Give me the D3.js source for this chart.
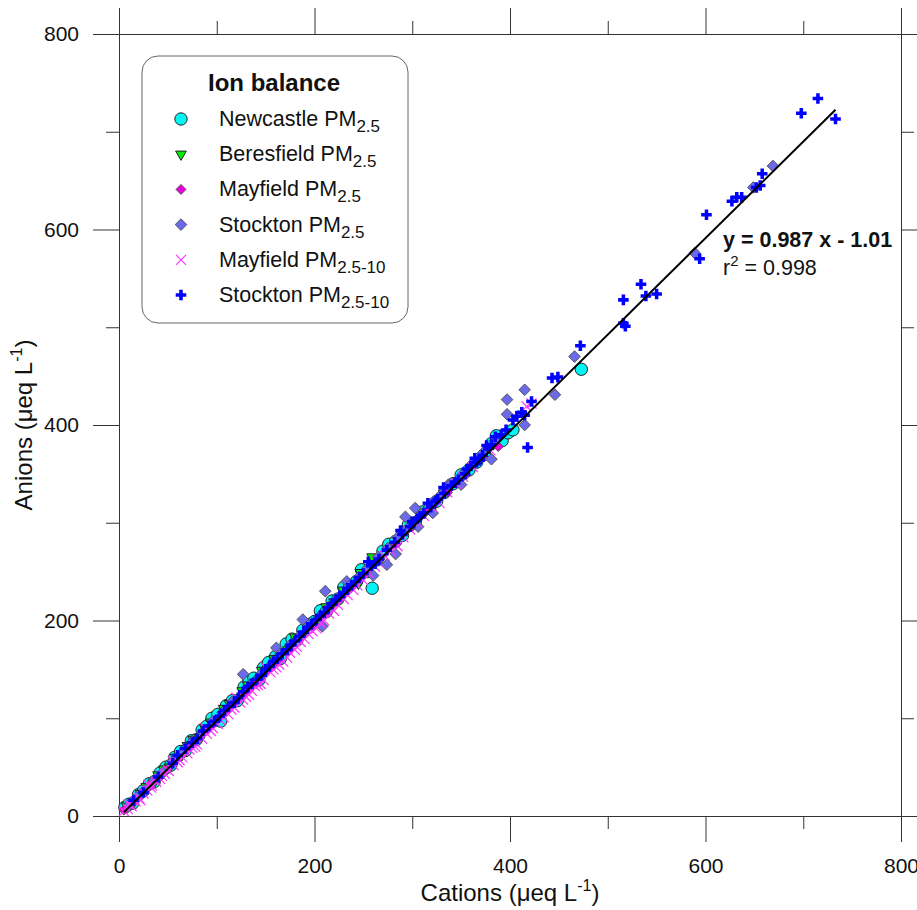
<!DOCTYPE html>
<html>
<head>
<meta charset="utf-8">
<script src="https://cdn.jsdelivr.net/npm/d3@7"></script>
<style>
  body { margin: 0; background: #fff; }
  text { font-family: Arial, "Liberation Sans", sans-serif; fill: #111; }
</style>
</head>
<body>
<svg id="chart"></svg>
<script>
// [cations, anions] in ueq/L
const newcastle = [[6,9],[10,12],[14,13],[20,22],[25,26],[31,33],[36,35],[42,44],[48,50],[53,52],[57,60],[63,66],[68,67],
  [74,77],[79,78],[85,88],[90,92],[95,100],[101,104],[104,97],[110,113],[116,118],[121,118],[128,132],[133,137],[138,141],
  [143,139],[148,152],[153,157],[160,163],[165,161],[171,176],[177,181],[182,180],[188,190],[194,196],[200,199],[206,210],
  [212,209],[218,220],[224,222],[230,234],[236,236],[243,240],[248,252],[254,250],[259,233],[264,262],[270,271],[276,278],
  [283,281],[290,287],[296,298],[303,300],[310,311],[318,315],[325,322],[333,331],[342,340],[350,349],[358,354],[366,362],
  [374,370],[381,381],[386,389],[392,384],[398,392],[403,395],[473,457]];
const beresfield = [[8,10],[15,14],[22,23],[28,30],[35,33],[40,42],[46,48],[52,50],[58,60],[64,62],[70,72],[76,78],[82,80],
  [88,90],[94,96],[100,98],[107,110],[113,115],[119,117],[126,128],[132,134],[139,137],[146,149],[152,150],[159,161],
  [166,168],[173,170],[180,183],[188,186],[196,198],[204,202],[212,214],[220,219],[229,231],[238,236],[245,238],[247,249],[259,265]];
const mayfield = [[5,6],[12,11],[18,17],[26,25],[33,32],[41,39],[49,47],[57,56],[66,64],[74,72],[83,80],[92,90],[101,99],
  [110,107],[120,118],[130,127],[140,137],[151,148],[162,158],[174,170],[186,183],[198,195],[211,207],[224,220],[238,234],
  [252,248],[267,263],[283,278],[300,296],[318,313],[336,331],[355,349],[372,367],[388,378]];
const stockton = [[10,11],[18,19],[27,27],[36,37],[45,45],[55,56],[65,65],[75,76],[86,86],[96,97],[106,106],[116,117],
  [127,145],[135,134],[145,145],[155,154],[161,172],[165,166],[175,175],[188,201],[185,184],[195,196],[208,194],[205,204],
  [211,230],[215,214],[225,224],[233,240],[235,235],[245,244],[255,254],[260,246],[265,265],[274,257],[275,274],[283,268],
  [285,285],[293,306],[295,294],[303,315],[306,296],[310,309],[321,310],[320,320],[330,329],[337,339],[340,340],[350,339],
  [352,350],[362,361],[372,371],[381,365],[385,384],[397,426],[397,411],[415,436],[415,400],[446,431],[466,470],[589,576],
  [649,643],[669,665]];
const mayfield10 = [[5,5],[9,7],[10,12],[13,10],[17,15],[21,18],[22,16],[25,23],[29,26],[30,32],[33,29],[34,31],[38,35],
  [42,38],[44,41],[47,43],[51,46],[55,56],[56,52],[60,55],[62,57],[65,60],[70,64],[72,68],[75,70],[78,71],[80,73],[85,79],
  [88,90],[90,84],[94,87],[96,90],[101,94],[104,98],[107,101],[112,104],[115,109],[118,111],[120,121],[124,116],[127,119],
  [130,122],[133,124],[136,128],[139,133],[142,134],[145,135],[148,139],[150,152],[155,147],[158,150],[161,152],[164,155],
  [168,158],[172,162],[175,167],[180,170],[182,173],[186,178],[190,181],[194,186],[198,189],[202,192],[206,198],[210,200],
  [215,207],[220,210],[224,216],[230,222],[234,226],[240,231],[244,236],[250,241],[255,249],[262,255],[266,259],[272,266],
  [278,271],[285,276],[291,285],[298,293],[305,300],[312,307],[320,316],[328,320],[336,331],[345,340],[352,347],[362,357],
  [380,374],[417,419],[422,422]];
const stockton10 = [[15,16],[25,24],[40,40],[55,54],[60,62],[68,69],[75,75],[80,79],[86,87],[92,92],[98,97],[103,102],
  [108,108],[112,112],[118,116],[122,121],[127,127],[132,132],[136,135],[141,140],[146,144],[150,150],[154,153],[158,158],
  [162,161],[167,166],[172,170],[176,175],[180,179],[185,184],[189,188],[193,193],[197,196],[202,201],[206,205],[210,208],
  [214,213],[218,217],[222,221],[226,225],[230,228],[234,233],[238,236],[242,240],[246,244],[250,248],[255,260],[258,256],
  [262,258],[266,263],[274,272],[282,280],[288,292],[290,288],[298,296],[300,301],[305,304],[308,306],[312,310],[316,320],
  [319,316],[324,322],[326,324],[332,336],[333,330],[340,338],[344,341],[347,344],[354,350],[356,355],[360,358],[364,366],
  [366,362],[369,364],[372,369],[376,379],[378,376],[381,380],[385,388],[391,390],[396,395],[403,405],[407,409],[412,413],
  [415,410],[418,377],[422,424],[443,448],[449,449],[472,481],[516,528],[516,504],[518,501],[534,544],[539,532],[550,534],
  [594,570],[601,615],[627,629],[632,633],[637,633],[652,643],[656,645],[658,657],[698,719],[715,734],[733,713]];

const fitSlope = 0.987, fitIntercept = -1.01;
const fitRange = [5, 733];
const xTicks = [0, 200, 400, 600, 800];
const minorTicks = [100, 300, 500, 700];

const width = 917, height = 910;
const margin = {top: 34, right: 16, bottom: 94, left: 119};

const svg = d3.select("#chart")
    .attr("width", width)
    .attr("height", height);

const x = d3.scaleLinear().domain([0, 800]).range([margin.left, width - margin.right]);
const y = d3.scaleLinear().domain([0, 800]).range([height - margin.bottom, margin.top]);

// axes: frame with outward ticks on all four sides
const axisColor = "#333";
function styleAxis(g) {
    g.select(".domain").attr("stroke", axisColor);
    g.selectAll(".tick line").attr("stroke", axisColor);
    g.selectAll("text").attr("font-size", 21).attr("fill", "#111")
        .attr("font-family", "Arial, 'Liberation Sans', sans-serif");
}

const yBottom = y(0), yTop = y(800), xLeft = x(0), xRight = x(800);

svg.append("g").attr("transform", `translate(0,${yBottom})`)
    .call(d3.axisBottom(x).tickValues(xTicks).tickSize(26).tickSizeOuter(0).tickPadding(16))
    .call(styleAxis);
svg.append("g").attr("transform", `translate(0,${yBottom})`)
    .call(d3.axisBottom(x).tickValues(minorTicks).tickSize(13).tickSizeOuter(0).tickFormat(""))
    .call(styleAxis);
svg.append("g").attr("transform", `translate(0,${yTop})`)
    .call(d3.axisTop(x).tickValues(xTicks).tickSize(26).tickSizeOuter(0).tickFormat(""))
    .call(styleAxis);
svg.append("g").attr("transform", `translate(0,${yTop})`)
    .call(d3.axisTop(x).tickValues(minorTicks).tickSize(13).tickSizeOuter(0).tickFormat(""))
    .call(styleAxis);
svg.append("g").attr("transform", `translate(${xLeft},0)`)
    .call(d3.axisLeft(y).tickValues(xTicks).tickSize(26).tickSizeOuter(0).tickPadding(14))
    .call(styleAxis);
svg.append("g").attr("transform", `translate(${xLeft},0)`)
    .call(d3.axisLeft(y).tickValues(minorTicks).tickSize(13).tickSizeOuter(0).tickFormat(""))
    .call(styleAxis);
svg.append("g").attr("transform", `translate(${xRight},0)`)
    .call(d3.axisRight(y).tickValues(xTicks).tickSize(26).tickSizeOuter(0).tickFormat(""))
    .call(styleAxis);
svg.append("g").attr("transform", `translate(${xRight},0)`)
    .call(d3.axisRight(y).tickValues(minorTicks).tickSize(13).tickSizeOuter(0).tickFormat(""))
    .call(styleAxis);

// axis titles
const xTitle = svg.append("text")
    .attr("x", (xLeft + xRight) / 2)
    .attr("y", 901)
    .attr("text-anchor", "middle")
    .attr("font-size", 24);
xTitle.append("tspan").text("Cations (\u03bceq L");
xTitle.append("tspan").attr("dy", -10).attr("font-size", 16).text("-1");
xTitle.append("tspan").attr("dy", 10).text(")");

const yTitle = svg.append("text")
    .attr("transform", `translate(32,${(yTop + yBottom) / 2}) rotate(-90)`)
    .attr("text-anchor", "middle")
    .attr("font-size", 24);
yTitle.append("tspan").text("Anions (\u03bceq L");
yTitle.append("tspan").attr("dy", -10).attr("font-size", 16).text("-1");
yTitle.append("tspan").attr("dy", 10).text(")");

// marker shapes
const diamond = s => `M0,${-s}L${s},0L0,${s}L${-s},0Z`;
const series = [
    {name: "Newcastle PM", sub: "2.5", data: newcastle,
     path: d3.symbol(d3.symbolCircle, 120)(), fill: "#00f5f5", stroke: "#222", sw: 1},
    {name: "Beresfield PM", sub: "2.5", data: beresfield,
     path: d3.symbol(d3.symbolTriangle, 50)(), rotate: 180, fill: "#00ee00", stroke: "#222", sw: 1},
    {name: "Mayfield PM", sub: "2.5", data: mayfield,
     path: diamond(5), fill: "#ee00dd", stroke: "#555", sw: 1},
    {name: "Stockton PM", sub: "2.5", data: stockton,
     path: diamond(5.8), fill: "#6a6aea", stroke: "#555", sw: 1},
    {name: "Mayfield PM", sub: "2.5-10", data: mayfield10,
     path: "M-5,-5L5,5M-5,5L5,-5", fill: "none", stroke: "#ff33ff", sw: 1.2},
    {name: "Stockton PM", sub: "2.5-10", data: stockton10,
     path: d3.symbol(d3.symbolCross, 62)(), fill: "#0000ff", stroke: "none", sw: 0}
];

const pts = svg.append("g");
series.forEach(s => {
    pts.append("g").selectAll("path")
        .data(s.data)
        .enter()
        .append("path")
        .attr("d", s.path)
        .attr("transform", d => `translate(${x(d[0])},${y(d[1])})` + (s.rotate ? ` rotate(${s.rotate})` : ""))
        .attr("fill", s.fill)
        .attr("stroke", s.stroke)
        .attr("stroke-width", s.sw);
});

// regression line
svg.append("line")
    .attr("x1", x(fitRange[0]))
    .attr("y1", y(fitSlope * fitRange[0] + fitIntercept))
    .attr("x2", x(fitRange[1]))
    .attr("y2", y(fitSlope * fitRange[1] + fitIntercept))
    .attr("stroke", "#000")
    .attr("stroke-width", 2);

svg.append("text")
    .attr("x", 723).attr("y", 247)
    .attr("font-size", 21.5).attr("font-weight", "bold")
    .text("y = 0.987 x - 1.01");
const r2 = svg.append("text")
    .attr("x", 723).attr("y", 275)
    .attr("font-size", 21.5);
r2.append("tspan").text("r");
r2.append("tspan").attr("dy", -9).attr("font-size", 15).text("2");
r2.append("tspan").attr("dy", 9).text(" = 0.998");

// legend
const legend = svg.append("g").attr("transform", "translate(142,56)");
legend.append("rect")
    .attr("width", 266).attr("height", 267)
    .attr("rx", 16).attr("ry", 16)
    .attr("fill", "#fff")
    .attr("stroke", "#666");
legend.append("text")
    .attr("x", 132).attr("y", 35)
    .attr("text-anchor", "middle")
    .attr("font-size", 24).attr("font-weight", "bold")
    .text("Ion balance");

series.forEach((s, i) => {
    const yy = 63 + i * 35.2;
    legend.append("path")
        .attr("d", s.path)
        .attr("transform", `translate(39,${yy})` + (s.rotate ? ` rotate(${s.rotate})` : ""))
        .attr("fill", s.fill)
        .attr("stroke", s.stroke)
        .attr("stroke-width", s.sw);
    const t = legend.append("text")
        .attr("x", 77).attr("y", yy + 7)
        .attr("font-size", 21.5);
    t.append("tspan").text(s.name);
    t.append("tspan").attr("dy", 6).attr("font-size", 17).text(s.sub);
});
</script>
</body>
</html>
